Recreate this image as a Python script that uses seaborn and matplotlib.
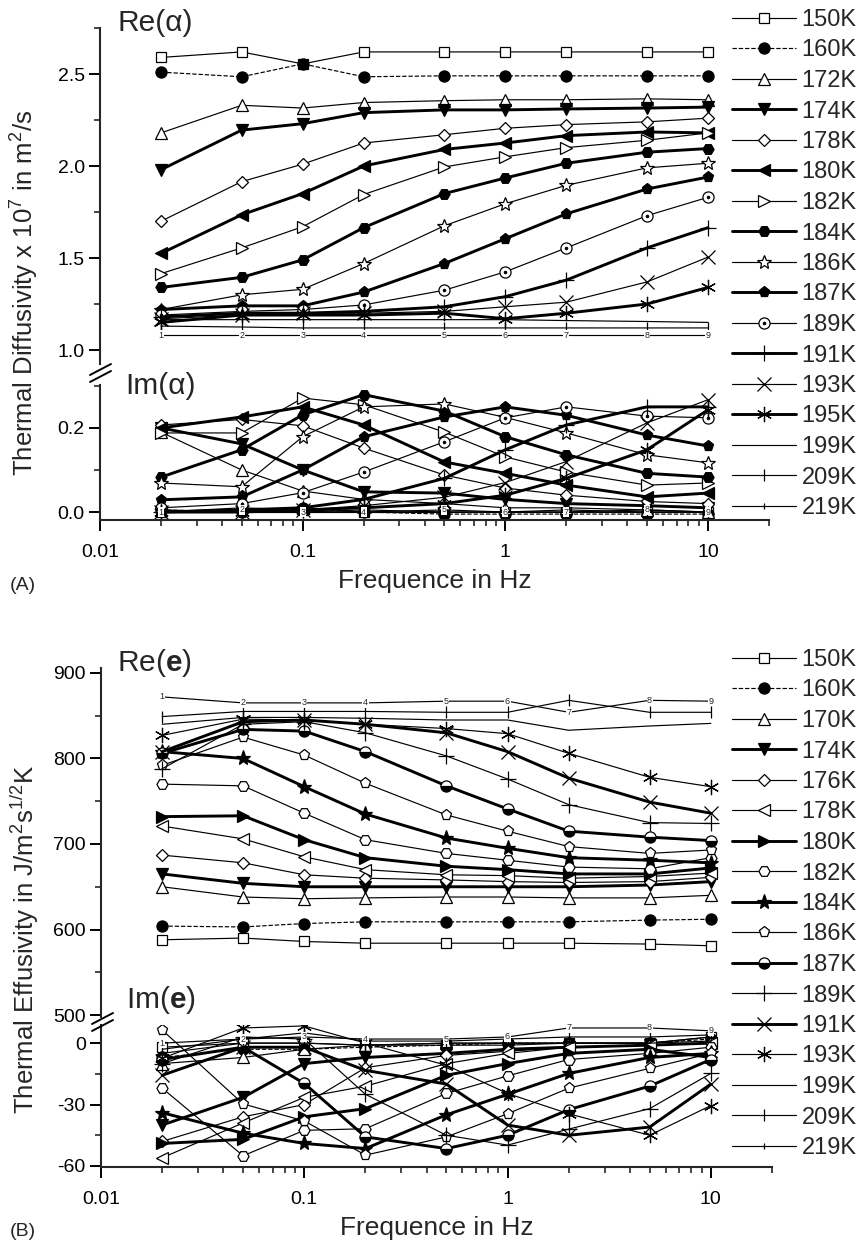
import matplotlib
matplotlib.use('Agg')
import matplotlib.pyplot as plt
import seaborn as sns
from matplotlib.lines import Line2D

sns.set_theme(style='ticks')
plt.rcParams['font.family'] = ['Liberation Sans', 'DejaVu Sans']
plt.rcParams['mathtext.fontset'] = 'custom'
plt.rcParams['mathtext.rm'] = 'Liberation Sans'
plt.rcParams['mathtext.bf'] = 'Liberation Sans:bold'
plt.rcParams['mathtext.it'] = 'Liberation Sans:italic'

# ---------------- data ----------------
freq = [0.02, 0.05, 0.1, 0.2, 0.5, 1, 2, 5, 10]

labels_a = ['150K', '160K', '172K', '174K', '178K', '180K', '182K', '184K', '186K',
            '187K', '189K', '191K', '193K', '195K', '199K', '209K', '219K']
re_a_150 = [2.59, 2.62, 2.555, 2.62, 2.62, 2.62, 2.62, 2.62, 2.62]
re_a_160 = [2.51, 2.485, 2.555, 2.485, 2.49, 2.49, 2.49, 2.49, 2.49]
re_a_172 = [2.18, 2.33, 2.315, 2.345, 2.355, 2.36, 2.36, 2.365, 2.36]
re_a_174 = [1.98, 2.195, 2.23, 2.29, 2.305, 2.305, 2.31, 2.315, 2.32]
re_a_178 = [1.70, 1.915, 2.01, 2.125, 2.17, 2.205, 2.225, 2.24, 2.26]
re_a_180 = [1.525, 1.735, 1.85, 2.0, 2.09, 2.125, 2.165, 2.185, 2.18]
re_a_182 = [1.415, 1.555, 1.67, 1.845, 1.995, 2.05, 2.10, 2.14, 2.18]
re_a_184 = [1.34, 1.395, 1.49, 1.665, 1.85, 1.935, 2.015, 2.075, 2.095]
re_a_186 = [1.22, 1.30, 1.33, 1.47, 1.675, 1.795, 1.895, 1.99, 2.015]
re_a_187 = [1.22, 1.24, 1.24, 1.315, 1.47, 1.605, 1.74, 1.875, 1.94]
re_a_189 = [1.19, 1.21, 1.22, 1.245, 1.325, 1.425, 1.555, 1.73, 1.83]
re_a_191 = [1.18, 1.20, 1.20, 1.21, 1.235, 1.29, 1.38, 1.555, 1.665]
re_a_193 = [1.17, 1.19, 1.20, 1.20, 1.21, 1.235, 1.26, 1.37, 1.505]
re_a_195 = [1.15, 1.19, 1.19, 1.19, 1.20, 1.17, 1.20, 1.25, 1.34]
re_a_199 = [1.165, 1.165, 1.165, 1.165, 1.165, 1.165, 1.16, 1.155, 1.15]
re_a_209 = [1.13, 1.125, 1.12, 1.12, 1.12, 1.12, 1.12, 1.12, 1.12]
re_a_219 = [1.08, 1.08, 1.08, 1.08, 1.08, 1.08, 1.08, 1.08, 1.08]

im_a_150 = [0.0, 0.01, 0.005, 0.0, 0.0, 0.0, 0.0, 0.0, 0.0]
im_a_160 = [0.005, 0.0, 0.01, 0.0, -0.005, -0.005, -0.005, -0.005, -0.005]
im_a_172 = [0.19, 0.10, 0.05, 0.03, 0.02, 0.01, 0.01, 0.005, 0.0]
im_a_174 = [0.20, 0.162, 0.10, 0.048, 0.045, 0.03, 0.02, 0.015, 0.01]
im_a_178 = [0.207, 0.22, 0.205, 0.152, 0.088, 0.057, 0.04, 0.025, 0.02]
im_a_180 = [0.20, 0.226, 0.25, 0.207, 0.119, 0.092, 0.064, 0.036, 0.045]
im_a_182 = [0.188, 0.188, 0.271, 0.255, 0.19, 0.131, 0.095, 0.064, 0.069]
im_a_184 = [0.083, 0.148, 0.231, 0.279, 0.24, 0.179, 0.136, 0.092, 0.083]
im_a_186 = [0.069, 0.06, 0.179, 0.25, 0.257, 0.225, 0.188, 0.136, 0.117]
im_a_187 = [0.029, 0.036, 0.10, 0.179, 0.226, 0.25, 0.23, 0.183, 0.157]
im_a_189 = [0.01, 0.02, 0.046, 0.095, 0.167, 0.224, 0.25, 0.228, 0.224]
im_a_191 = [0.0, 0.005, 0.01, 0.03, 0.08, 0.148, 0.207, 0.25, 0.25]
im_a_193 = [0.0, 0.0, 0.005, 0.015, 0.035, 0.07, 0.12, 0.212, 0.267]
im_a_195 = [0.0, 0.0, 0.005, 0.01, 0.02, 0.04, 0.08, 0.148, 0.243]
im_a_199 = [0.0, 0.0, 0.0, 0.0, 0.0, 0.0, 0.0, 0.0, 0.0]
im_a_209 = [0.005, 0.0, 0.0, 0.005, 0.0, 0.0, 0.005, 0.0, 0.0]
im_a_219 = [0.0, 0.005, 0.0, 0.0, 0.005, 0.0, 0.0, 0.005, 0.0]

labels_e = ['150K', '160K', '170K', '174K', '176K', '178K', '180K', '182K', '184K',
            '186K', '187K', '189K', '191K', '193K', '199K', '209K', '219K']
re_e_150 = [588, 590, 586, 584, 584, 584, 584, 583, 581]
re_e_160 = [604, 603, 607, 609, 609, 609, 609, 611, 612]
re_e_170 = [650, 638, 636, 637, 638, 638, 637, 637, 640]
re_e_174 = [665, 654, 650, 650, 650, 650, 650, 652, 656]
re_e_176 = [687, 678, 664, 660, 658, 656, 655, 656, 661]
re_e_178 = [721, 706, 685, 670, 664, 663, 660, 662, 666]
re_e_180 = [732, 733, 705, 684, 674, 670, 665, 665, 672]
re_e_182 = [770, 768, 736, 705, 689, 681, 673, 671, 684]
re_e_184 = [808, 800, 767, 735, 707, 695, 684, 681, 678]
re_e_186 = [792, 825, 804, 771, 734, 715, 697, 689, 693]
re_e_187 = [806, 834, 832, 808, 768, 741, 715, 708, 704]
re_e_189 = [788, 840, 843, 830, 803, 776, 746, 725, 724]
re_e_191 = [808, 843, 845, 840, 830, 808, 777, 749, 736]
re_e_193 = [827, 846, 845, 840, 835, 829, 806, 778, 767]
re_e_199 = [840, 848, 848, 847, 845, 845, 833, 838, 841]
re_e_209 = [849, 855, 855, 855, 854, 854, 868, 854, 854]
re_e_219 = [872, 865, 865, 865, 867, 867, 854, 868, 867]

im_e_150 = [-2, 0, 0, -1, -1, -1, 0, 0, 3]
im_e_160 = [-7, -3, -3, -2, -1, 0, 0, 0, 2]
im_e_170 = [-10, -7, -3, -1, 0, 0, 0, 0, 3]
im_e_174 = [-40, -26.5, -10, -7, -5, -3, -2, -1, 0]
im_e_176 = [-48, -36, -30, -12, -6, -4, -2, -1, 0]
im_e_178 = [-56, -39, -26.5, -21, -10, -5, -2, -1, 0]
im_e_180 = [-49, -47, -36, -32, -15.7, -10, -5, -3, -7]
im_e_182 = [-22, -55, -42.6, -41.8, -24.6, -16, -8, -5, -2]
im_e_184 = [-34, -44, -49, -51.5, -35, -25, -14.8, -7, -5]
im_e_186 = [6.4, -29.7, -38, -54.7, -45.8, -34.5, -22, -12.3, -5]
im_e_187 = [-8, -2, -19.7, -45.8, -51.5, -45, -32.5, -21, -8]
im_e_189 = [-10, 3, 2, -25, -45, -49.8, -42, -32, -14.8]
im_e_191 = [-15.7, -2, -2, -13.3, -20, -40, -45, -41, -20]
im_e_193 = [-7.4, 7.4, 8.4, 0, -10.8, -24.6, -34.5, -45, -30.5]
im_e_199 = [-5, 0, 0, -1, 0, 0, 0, 0, 1]
im_e_209 = [-3, 2, 5, 1, 1, 2, 3, 3, 4]
im_e_219 = [0, 2, 3, 2, 2, 3, 7.4, 7.4, 6]

# ---------------- styles ----------------
THIN, THICK = 0.85, 2.1
ast = (6, 2, 0)
styles_a = [
    dict(marker='s', mfc='white', lw=THIN, ls='-', ms=7.5),
    dict(marker='o', mfc='black', lw=THIN, ls='--'),
    dict(marker='^', mfc='white', lw=THIN, ls='-'),
    dict(marker='v', mfc='black', lw=THICK, ls='-'),
    dict(marker='D', mfc='white', lw=THIN, ls='-', ms=6.5),
    dict(marker='<', mfc='black', lw=THICK, ls='-'),
    dict(marker='>', mfc='white', lw=THIN, ls='-'),
    dict(marker='H', mfc='black', lw=THICK, ls='-'),
    dict(marker='*', mfc='white', lw=THIN, ls='-', ms=10),
    dict(marker='p', mfc='black', lw=THICK, ls='-'),
    dict(marker='o', mfc='white', lw=THIN, ls='-', dot=True),
    dict(marker='+', mfc='black', lw=THICK, ls='-', ms=11),
    dict(marker='x', mfc='black', lw=THIN, ls='-', ms=9.5),
    dict(marker=ast, mfc='black', lw=THICK, ls='-', ms=11),
    dict(marker='None', mfc='black', lw=THIN, ls='-'),
    dict(marker='|', mfc='black', lw=THIN, ls='-', ms=9),
    dict(marker='|', mfc='black', lw=THIN, ls='-', ms=4, num=True),
]
styles_e = [
    dict(marker='s', mfc='white', lw=THIN, ls='-', ms=7.5),
    dict(marker='o', mfc='black', lw=THIN, ls='--'),
    dict(marker='^', mfc='white', lw=THIN, ls='-'),
    dict(marker='v', mfc='black', lw=THICK, ls='-'),
    dict(marker='D', mfc='white', lw=THIN, ls='-', ms=6.5),
    dict(marker='<', mfc='white', lw=THIN, ls='-'),
    dict(marker='>', mfc='black', lw=THICK, ls='-'),
    dict(marker='H', mfc='white', lw=THIN, ls='-'),
    dict(marker='*', mfc='black', lw=THICK, ls='-', ms=11),
    dict(marker='p', mfc='white', lw=THIN, ls='-'),
    dict(marker='o', mfc='black', lw=THICK, ls='-', half=True),
    dict(marker='+', mfc='black', lw=THIN, ls='-', ms=11),
    dict(marker='x', mfc='black', lw=THICK, ls='-', ms=9.5),
    dict(marker=ast, mfc='black', lw=THIN, ls='-', ms=11),
    dict(marker='None', mfc='black', lw=THIN, ls='-'),
    dict(marker='|', mfc='black', lw=THIN, ls='-', ms=9),
    dict(marker='|', mfc='black', lw=THIN, ls='-', ms=4, num=True),
]

re_a = [re_a_150, re_a_160, re_a_172, re_a_174, re_a_178, re_a_180, re_a_182, re_a_184,
        re_a_186, re_a_187, re_a_189, re_a_191, re_a_193, re_a_195, re_a_199, re_a_209, re_a_219]
im_a = [im_a_150, im_a_160, im_a_172, im_a_174, im_a_178, im_a_180, im_a_182, im_a_184,
        im_a_186, im_a_187, im_a_189, im_a_191, im_a_193, im_a_195, im_a_199, im_a_209, im_a_219]
re_e = [re_e_150, re_e_160, re_e_170, re_e_174, re_e_176, re_e_178, re_e_180, re_e_182,
        re_e_184, re_e_186, re_e_187, re_e_189, re_e_191, re_e_193, re_e_199, re_e_209, re_e_219]
im_e = [im_e_150, im_e_160, im_e_170, im_e_174, im_e_176, im_e_178, im_e_180, im_e_182,
        im_e_184, im_e_186, im_e_187, im_e_189, im_e_191, im_e_193, im_e_199, im_e_209, im_e_219]

# ---------------- figure ----------------
W, H = 866, 1248
fig = plt.figure(figsize=(W / 100, H / 100), dpi=100)


def rect(l, t, r, b):
    return [l / W, 1 - b / H, (r - l) / W, (b - t) / H]


def fx(px):
    return px / W


def fy(py):
    return 1 - py / H


def draw_series(ax, y, st, label):
    ms = st.get('ms', 8.0)
    kw = dict(marker=st['marker'], markersize=ms, markerfacecolor=st['mfc'],
              markeredgecolor='black', markeredgewidth=0.9, linewidth=st['lw'],
              linestyle=st['ls'], color='black')
    if st.get('half'):
        kw.update(fillstyle='bottom', markerfacecoloralt='white')
    sns.lineplot(x=freq, y=y, ax=ax, label=label, legend=False, **kw)
    h = ax.lines[-1]
    if st.get('dot'):
        sns.lineplot(x=freq, y=y, ax=ax, marker='o', markersize=1.8, color='black',
                     markeredgecolor='black', linestyle='None', legend=False)
        h = (h, ax.lines[-1])
    if st.get('num'):
        for i, (xv, yv) in enumerate(zip(freq, y)):
            ax.text(xv, yv, str(i + 1), fontsize=6.5, ha='center', va='center',
                    bbox=dict(fc='white', ec='none', pad=0.4), zorder=5)
    return h


def style_axes(ax, bottom):
    for s in ['top', 'right']:
        ax.spines[s].set_visible(False)
    ax.spines['left'].set_linewidth(1.5)
    ax.set_xscale('log')
    ax.set_xlim(0.01, 20)
    ax.set_facecolor('none')
    ax.tick_params(axis='both', which='major', direction='out', length=8, width=1.4,
                   labelsize=14, colors='black', pad=3)
    ax.tick_params(axis='both', which='minor', direction='out', length=4.5, width=1.2)
    if bottom:
        ax.spines['bottom'].set_linewidth(1.5)
        ax.set_xticks([0.01, 0.1, 1, 10])
        ax.set_xticklabels(['0.01', '0.1', '1', '10'])
        ax.tick_params(axis='x', which='major', pad=9)
    else:
        ax.spines['bottom'].set_visible(False)
        ax.tick_params(axis='x', which='both', bottom=False, labelbottom=False)
    ax.set_xlabel('')
    ax.set_ylabel('')


def panel(tre, tim, ylims_re, ylims_im, yt_re, ytm_re, yt_im, ytm_im, fmt,
          re_data, im_data, styles, labels, titles, title_pos, ylabel, ylabel_y, tag,
          leg_top, brk):
    ax_re = fig.add_axes(rect(*tre))
    ax_im = fig.add_axes(rect(*tim))
    handles = []
    for y, st, lab in zip(re_data, styles, labels):
        handles.append(draw_series(ax_re, y, st, lab))
    for y, st, lab in zip(im_data, styles, labels):
        draw_series(ax_im, y, st, lab)
    style_axes(ax_re, False)
    style_axes(ax_im, True)
    ax_re.set_ylim(*ylims_re)
    ax_im.set_ylim(*ylims_im)
    ax_re.set_yticks(yt_re)
    ax_re.set_yticklabels([fmt.format(v) for v in yt_re])
    ax_re.set_yticks(ytm_re, minor=True)
    ax_im.set_yticks(yt_im)
    ax_im.set_yticklabels([fmt.format(v) for v in yt_im])
    ax_im.set_yticks(ytm_im, minor=True)
    ax_im.set_xlabel('Frequence in Hz', fontsize=19, labelpad=6)
    for t, (px, py) in zip(titles, title_pos):
        fig.text(fx(px), fy(py), t, fontsize=21.5, ha='left', va='center')
    fig.text(fx(25), fy(ylabel_y), ylabel, rotation=90, fontsize=18.5,
             ha='center', va='center')
    fig.text(fx(10), fy(tag[1]), tag[0], fontsize=14, ha='left', va='center')
    # axis break marks
    for dy in (0, 7):
        fig.add_artist(Line2D([fx(brk[0] - 10), fx(brk[0] + 11)],
                              [fy(brk[1] + 5 + dy), fy(brk[1] - 6 + dy)],
                              transform=fig.transFigure, color='black', lw=1.4))
    fig.legend(handles, labels, loc='upper left',
               bbox_to_anchor=(fx(732), fy(leg_top)), frameon=False,
               fontsize=17, handlelength=2.7, handletextpad=0.25,
               labelspacing=0.36, borderpad=0, borderaxespad=0)


panel((100, 28, 769, 364), (100, 385, 769, 520), (0.924, 2.75), (-0.019, 0.302),
      [1.0, 1.5, 2.0, 2.5], [1.25, 1.75, 2.25, 2.75], [0.0, 0.2], [0.1, 0.3],
      '{:.1f}', re_a, im_a, styles_a, labels_a,
      ('Re(α)', 'Im(α)'), ((117, 23), (125, 386)),
      r'Thermal Diffusivity x 10$^7$ in m$^2$/s', 293, ('(A)', 585), 9, (100, 370))

panel((101, 668, 772, 1017), (101, 1025, 772, 1167), (497.7, 905.8), (-60.5, 8.85),
      [500, 600, 700, 800, 900], [550, 650, 750, 850], [0, -30, -60], [-15, -45],
      '{:.0f}', re_e, im_e, styles_e, labels_e,
      (r'Re($\mathbf{e}$)', r'Im($\mathbf{e}$)'), ((117, 663), (126, 1000)),
      r'Thermal Effusivity in J/m$^2$s$^{1/2}$K', 939, ('(B)', 1231), 649, (102, 1019))

fig.savefig('out.png', dpi=100)
